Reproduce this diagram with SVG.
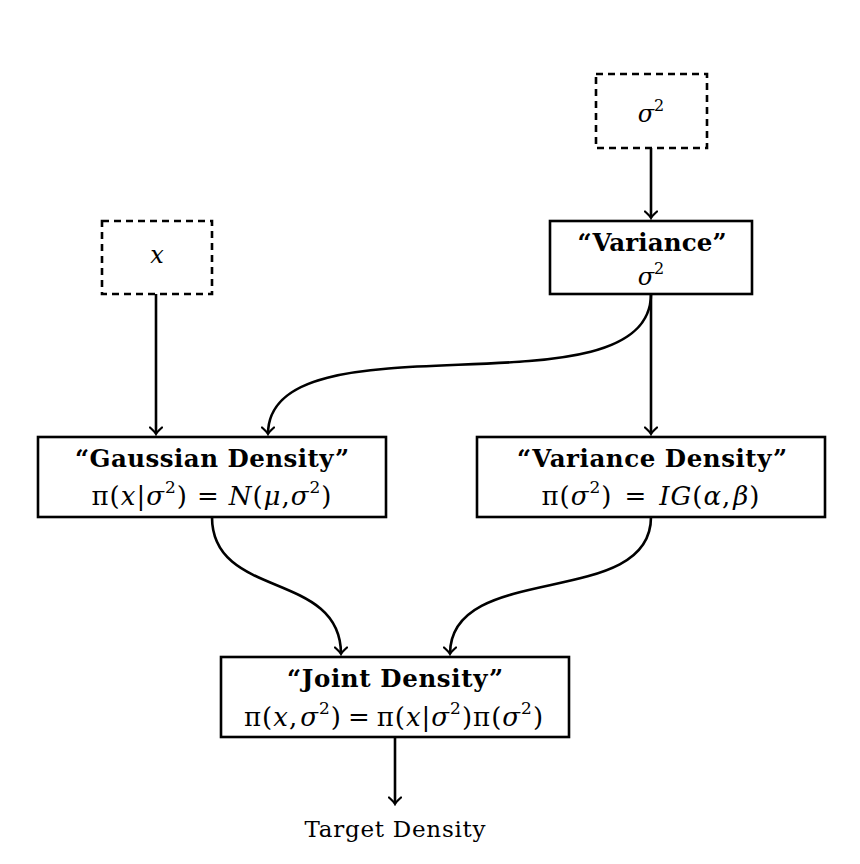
<svg xmlns="http://www.w3.org/2000/svg" width="860" height="864" viewBox="0 0 860 864">
<defs>
<marker id="arr" viewBox="-8 -7 10 14" markerWidth="10" markerHeight="14" refX="0" refY="0" orient="auto" markerUnits="userSpaceOnUse">
<path d="M-6.5,-6 Q-2,-1 0,0 Q-2,1 -6.5,6" fill="none" stroke="#000" stroke-width="2.2" stroke-linecap="round"/>
</marker>
<style>
.box{fill:#fff;stroke:#000;stroke-width:2.6}
.dash{fill:#fff;stroke:#000;stroke-width:2.6;stroke-dasharray:7 5}
.c{fill:none;stroke:#000;stroke-width:2.6;marker-end:url(#arr)}
.t{font-family:"DejaVu Serif","Liberation Serif",serif;font-size:24.5px;font-weight:bold;text-anchor:middle;fill:#000}
.m{font-family:"DejaVu Serif","Liberation Serif",serif;font-size:24px;text-anchor:middle;fill:#000}
.f{font-size:26px;letter-spacing:1px}
.i{font-style:italic}
.s{font-size:16px}
.f .s{font-size:17px}
.p{font-family:"DejaVu Serif","Liberation Serif",serif;font-size:23px;text-anchor:middle;fill:#000}
</style>
</defs>
<g id="connectors">
<path class="c" d="M651,148 L651,218"/>
<path class="c" d="M651,294 L651,434"/>
<path class="c" d="M651,294 C651,420 268,310 268,434"/>
<path class="c" d="M156,294 L156,434"/>
<path class="c" d="M212,517 C212,600 341,570 341,654"/>
<path class="c" d="M651,517 C651,610 450,560 450,654"/>
<path class="c" d="M395,737 L395,804"/>
</g>
<g id="sigma2">
<rect class="dash" x="596" y="74" width="111" height="74"/>
<text class="m" x="651" y="122"><tspan class="i">σ</tspan><tspan class="s" dy="-11">2</tspan></text>
</g>
<g id="x">
<rect class="dash" x="102" y="221" width="110" height="73"/>
<text class="m i" x="157" y="263">x</text>
</g>
<g id="variance">
<rect class="box" x="550" y="221" width="202" height="73"/>
<text class="t" x="652" y="251" textLength="149" lengthAdjust="spacing">“Variance”</text>
<text class="m" x="651" y="285"><tspan class="i">σ</tspan><tspan class="s" dy="-11">2</tspan></text>
</g>
<g id="gaussian">
<rect class="box" x="38" y="437" width="348" height="80"/>
<text class="t" x="212" y="467" textLength="274" lengthAdjust="spacing">“Gaussian Density”</text>
<text class="m f" x="212" y="505"><tspan>π(</tspan><tspan class="i">x</tspan><tspan>|</tspan><tspan class="i">σ</tspan><tspan class="s" dy="-12">2</tspan><tspan dy="12">)</tspan><tspan dx="9">=</tspan><tspan class="i" dx="9">N</tspan><tspan>(</tspan><tspan class="i">μ</tspan><tspan>,</tspan><tspan class="i">σ</tspan><tspan class="s" dy="-12">2</tspan><tspan dy="12">)</tspan></text>
</g>
<g id="varianceDensity">
<rect class="box" x="477" y="437" width="348" height="80"/>
<text class="t" x="652" y="467" textLength="270" lengthAdjust="spacing">“Variance Density”</text>
<text class="m f" x="651" y="505"><tspan>π(</tspan><tspan class="i">σ</tspan><tspan class="s" dy="-12">2</tspan><tspan dy="12">)</tspan><tspan dx="12">=</tspan><tspan class="i" dx="12">IG</tspan><tspan>(</tspan><tspan class="i">α</tspan><tspan>,</tspan><tspan class="i" dx="2">β</tspan><tspan>)</tspan></text>
</g>
<g id="joint">
<rect class="box" x="221" y="657" width="348" height="80"/>
<text class="t" x="395" y="687" textLength="216" lengthAdjust="spacing">“Joint Density”</text>
<text class="m f" x="394" y="726"><tspan>π(</tspan><tspan class="i">x</tspan><tspan>,</tspan><tspan class="i" dx="2">σ</tspan><tspan class="s" dy="-12">2</tspan><tspan dy="12">)</tspan><tspan dx="6">=</tspan><tspan dx="6">π(</tspan><tspan class="i">x</tspan><tspan>|</tspan><tspan class="i">σ</tspan><tspan class="s" dy="-12">2</tspan><tspan dy="12">)π(</tspan><tspan class="i">σ</tspan><tspan class="s" dy="-12">2</tspan><tspan dy="12">)</tspan></text>
</g>
<g id="target">
<text class="p" x="395" y="837" textLength="181" lengthAdjust="spacing">Target Density</text>
</g>
</svg>
